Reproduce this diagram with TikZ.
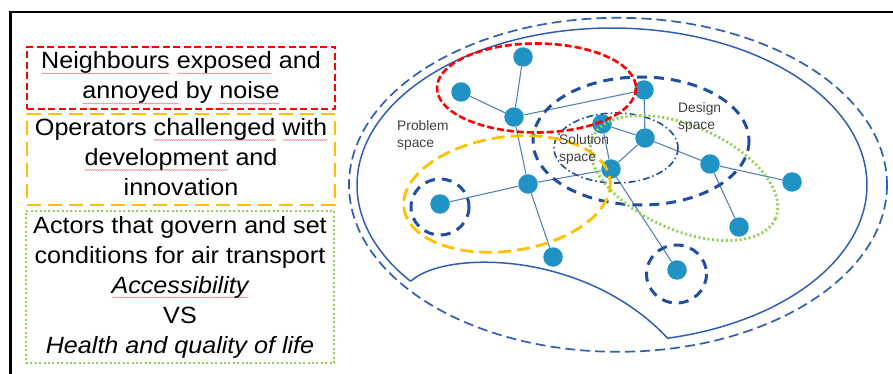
\documentclass[tikz,border=0pt]{standalone}
\usepackage{fontspec}
\setmainfont{Liberation Sans}
\newfontfamily\boxfont[FakeStretch=1.07]{Liberation Sans}
\usetikzlibrary{backgrounds,decorations.pathmorphing}

\definecolor{nodeblue}{RGB}{33,146,196}
\definecolor{edgeblue}{RGB}{84,130,190}
\definecolor{lineblue}{RGB}{47,95,175}
\definecolor{deepblue}{RGB}{32,78,160}
\definecolor{noisered}{RGB}{255,0,0}
\definecolor{opsorange}{RGB}{255,192,0}
\definecolor{govgreen}{RGB}{146,208,80}
\definecolor{labelgray}{RGB}{64,64,64}
\definecolor{spellred}{RGB}{235,110,110}

% wavy proof-reading underline under a word
\newsavebox\spellbox
\newcommand\spell[1]{\sbox\spellbox{#1}\leavevmode\rlap{\tikz[baseline=0pt,x=1pt,y=1pt]
  \draw[spellred, line width=0.45pt, decorate,
        decoration={snake, amplitude=0.55pt, segment length=2.4pt}]
        (0,-4.5) -- (\the\wd\spellbox,-4.5);}\usebox\spellbox}

\tikzset{
  frameline/.style={line width=2.8pt, black},
  boxtext/.style={font=\boxfont\fontsize{23.5}{30}\selectfont, align=center, inner sep=0pt,
                  minimum width=308pt},
  redbox/.style={boxtext, draw=noisered, line width=2.6pt, dash pattern=on 7pt off 3.5pt},
  orangebox/.style={boxtext, draw=opsorange, line width=2.8pt, dash pattern=on 14pt off 7pt},
  greenbox/.style={boxtext, draw=govgreen, line width=2.6pt, dash pattern=on 2pt off 2.4pt},
  dot/.style={circle, fill=nodeblue, draw=none, minimum size=19.5pt, inner sep=0pt},
  link/.style={edgeblue, line width=1.1pt},
  spacelabel/.style={font=\fontsize{13.8}{17}\selectfont, text=labelgray, align=left,
                     inner sep=0pt, text width=60pt, anchor=base west},
  outerdash/.style={lineblue, line width=1.7pt, dash pattern=on 10pt off 5pt},
  outersolid/.style={lineblue, line width=1.5pt},
  designdash/.style={deepblue, line width=3pt, dash pattern=on 10pt off 7pt},
  solutiondash/.style={deepblue, line width=1.6pt, dash pattern=on 7pt off 3pt on 1.5pt off 3pt},
  noisering/.style={noisered, line width=2.6pt, dash pattern=on 7pt off 3pt},
  opsring/.style={opsorange, line width=2.8pt, dash pattern=on 13pt off 6pt},
  govring/.style={govgreen, line width=2.8pt, dash pattern=on 2pt off 2.6pt}
}

\begin{document}
\begin{tikzpicture}[x=1pt, y=-1pt]
  \useasboundingbox (0,0) rectangle (893,374);

  % outer frame (top and left edges)
  \coordinate (frameBL) at (10.5,376);
  \coordinate (frameTL) at (10.5,12);
  \coordinate (frameTR) at (895,12);
  \draw[frameline] (frameBL) -- (frameTL) -- (frameTR);

  % stakeholder boxes
  \node[redbox, minimum height=62pt] (neigh) at (181,78)
    {\strut\spell{Neighbours} \spell{exposed} and\\\spell{annoyed} by \spell{noise}\strut};
  \node[orangebox, minimum height=91pt] (ops) at (181,159.5)
    {\strut Operators \spell{challenged} \spell{with}\\\spell{development} and\\innovation\strut};
  \node[greenbox, minimum height=152pt] (gov) at (180,287)
    {\strut Actors that govern and set\\conditions for air transport\\
     \textit{\spell{Accessibility}}\\VS\\\textit{Health and quality of life}\strut};

  % network nodes
  \node[dot] (n1)  at (523,57)  {};
  \node[dot] (n2)  at (461,92)  {};
  \node[dot] (n3)  at (514,117) {};
  \node[dot] (n4)  at (644,90)  {};
  \node[dot] (n5)  at (602,124) {};
  \node[dot] (n6)  at (645,138) {};
  \node[dot] (n7)  at (611,169) {};
  \node[dot] (n8)  at (710,164) {};
  \node[dot] (n9)  at (792,182) {};
  \node[dot] (n10) at (528,184) {};
  \node[dot] (n11) at (440,204) {};
  \node[dot] (n12) at (553,257) {};
  \node[dot] (n13) at (677,270) {};
  \node[dot] (n14) at (739,227) {};

  % links, kept behind the dots
  \begin{scope}[on background layer]
    \draw[link] (n1) -- (n3);
    \draw[link] (n2) -- (n3);
    \draw[link] (n3) -- (n4);
    \draw[link] (n3) -- (n10);
    \draw[link] (n4) -- (n6);
    \draw[link] (n5) -- (n6);
    \draw[link] (n5) -- (n7);
    \draw[link] (n6) -- (n7);
    \draw[link] (n6) -- (n8);
    \draw[link] (n8) -- (n9);
    \draw[link] (n8) -- (n14);
    \draw[link] (n10) -- (n11);
    \draw[link] (n10) -- (n7);
    \draw[link] (n10) -- (n12);
    \draw[link] (n7) -- (n13);
  \end{scope}

  % system boundary: dashed outer ring and solid inner outline with a cut
  \coordinate (sysC) at (618,184.8);
  \draw[outerdash] (sysC) ellipse[x radius=269, y radius=167];
  \coordinate (cuspL) at (411,281);
  \draw[outersolid]
    plot[domain=142.2:437.4, samples=160, variable=\t] ({612+255*cos(\t)},{185+157*sin(\t)})
    .. controls (585,250) and (445,250) .. (cuspL);

  % design space and solution space
  \coordinate (designC) at (641,141);
  \draw[designdash] (designC) ellipse[x radius=108, y radius=64];
  \coordinate (solC) at (616,148);
  \draw[solutiondash] (solC) ellipse[x radius=62, y radius=35];

  % isolated actors
  \coordinate (isoA) at (440,207);
  \draw[designdash] (isoA) ellipse[x radius=29, y radius=28];
  \coordinate (isoB) at (676.5,274);
  \draw[designdash] (isoB) ellipse[x radius=30, y radius=29];

  % stakeholder groups
  \coordinate (noiseC) at (536.5,88);
  \draw[noisering] (noiseC) ellipse[x radius=99.5, y radius=44.5];
  \coordinate (opsC) at (507,194);
  \draw[opsring, rotate around={8:(opsC)}] (opsC) ellipse[x radius=104, y radius=57];
  \coordinate (govC) at (684,178);
  \draw[govring, rotate around={-24:(govC)}] (govC) ellipse[x radius=100, y radius=52];

  % space labels
  \node[spacelabel] (problemlbl)  at (397,131) {Problem\\space};
  \node[spacelabel] (solutionlbl) at (559,145) {Solution\\space};
  \node[spacelabel] (designlbl)   at (678,113) {Design\\space};
\end{tikzpicture}
\end{document}
